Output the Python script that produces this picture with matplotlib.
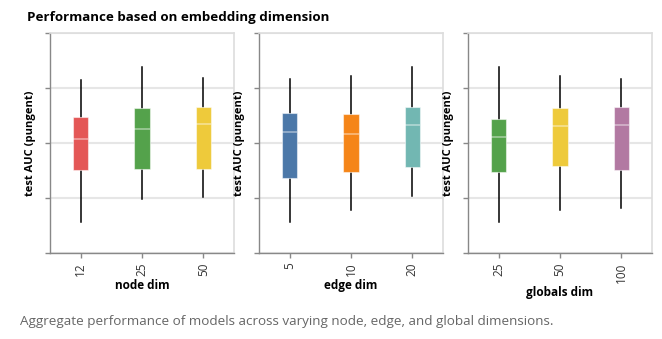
import matplotlib.pyplot as plt

plt.rcParams['font.family'] = ['Open Sans', 'DejaVu Sans']

# box stats: (whisker low, q1, median, q3, whisker high)
node_dims = ["12", "25", "50"]
node_stats = [
    (0.657, 0.751, 0.807, 0.847, 0.915),
    (0.698, 0.752, 0.825, 0.864, 0.939),
    (0.702, 0.753, 0.834, 0.865, 0.919),
]
edge_dims = ["5", "10", "20"]
edge_stats = [
    (0.657, 0.737, 0.820, 0.855, 0.916),
    (0.678, 0.747, 0.817, 0.853, 0.921),
    (0.704, 0.756, 0.833, 0.865, 0.939),
]
glob_dims = ["25", "50", "100"]
glob_stats = [
    (0.657, 0.747, 0.810, 0.844, 0.939),
    (0.678, 0.758, 0.831, 0.863, 0.921),
    (0.682, 0.751, 0.833, 0.865, 0.916),
]

panels = [
    ("node dim", node_dims, node_stats, ["#e45756", "#54a24b", "#eeca3b"]),
    ("edge dim", edge_dims, edge_stats, ["#4c78a8", "#f58518", "#72b7b2"]),
    ("globals dim", glob_dims, glob_stats, ["#54a24b", "#eeca3b", "#b279a2"]),
]

fig = plt.figure(figsize=(6.62, 3.39), dpi=100)
lefts = [50, 259, 468]
W, H = 662, 339

for left, (xlabel, cats, stats, colors) in zip(lefts, panels):
    ax = fig.add_axes([left / W, (H - 253) / H, 184 / W, 220 / H])
    bxp_stats = []
    for cat, (lo, q1, med, q3, hi) in zip(cats, stats):
        bxp_stats.append(dict(label=cat, whislo=lo, q1=q1, med=med, q3=q3, whishi=hi, fliers=[]))
    bp = ax.bxp(bxp_stats, positions=range(len(cats)), widths=0.25, patch_artist=True,
                showcaps=False, showfliers=False,
                whiskerprops=dict(color="black", linewidth=1.1),
                medianprops=dict(color="white", alpha=0.45, linewidth=1.2),
                boxprops=dict(linewidth=0.8), zorder=3)
    for patch, c in zip(bp["boxes"], colors):
        patch.set_facecolor(c)
        patch.set_edgecolor((1, 1, 1, 0.5))
    for w in bp["whiskers"]:
        w.set_zorder(2)

    ax.set_xlim(-0.5, len(cats) - 0.5)
    ax.set_ylim(0.6, 1.0)
    ax.set_yticks([0.6, 0.7, 0.8, 0.9, 1.0])
    ax.set_yticklabels([])
    ax.yaxis.grid(True, color="#e6e6e6", linewidth=1.5)
    ax.set_axisbelow(True)
    ax.tick_params(axis="y", length=3.8, color="#888888", width=1)
    ax.tick_params(axis="x", length=3.8, color="#888888", width=1, labelsize=8.5,
                   labelcolor="#333333", rotation=90, pad=3)
    for s in ["top", "right"]:
        ax.spines[s].set_color("#dddddd")
        ax.spines[s].set_linewidth(1.2)
    for s in ["left", "bottom"]:
        ax.spines[s].set_color("#888888")
        ax.spines[s].set_linewidth(1)
    ax.set_ylabel("test AUC (pungent)", fontsize=8, fontweight="bold", labelpad=3)
    ax.set_xlabel(xlabel, fontsize=8.5, fontweight="bold", labelpad=2)

fig.text(27 / W, 1 - 18 / H, "Performance based on embedding dimension",
         fontsize=9.6, fontweight="bold", va="center", ha="left")
fig.text(20 / W, 1 - 321 / H, "Aggregate performance of models across varying node, edge, and global dimensions.",
         fontsize=9.7, color="#666666", va="center", ha="left")

fig.savefig("out.png", dpi=100)
